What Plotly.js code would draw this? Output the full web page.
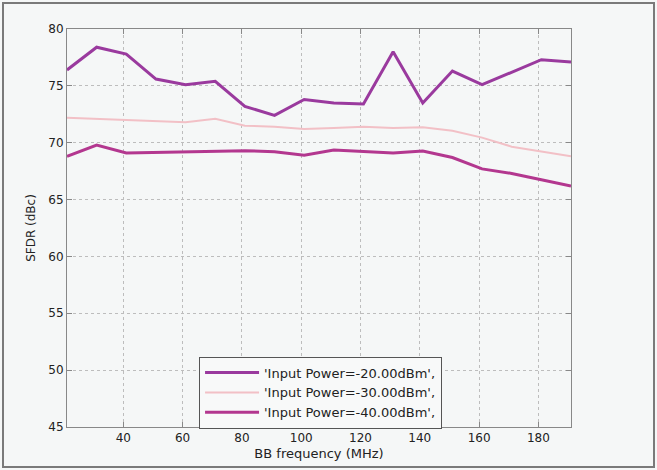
<!DOCTYPE html>
<html>
<head>
<meta charset="utf-8">
<script src="https://cdn.plot.ly/plotly-3.0.1.min.js"></script>
<style>
html,body{margin:0;padding:0;background:#f5f7f7;}
#wrap{position:relative;width:657px;height:470px;}
#chart{width:657px;height:470px;}
#frame{position:absolute;left:2px;top:2px;width:653px;height:466px;box-sizing:border-box;border:2px solid #7a7a7a;pointer-events:none;}
</style>
</head>
<body>
<div id="wrap"><div id="chart"></div><div id="frame"></div></div>
<script>
const freq = [21, 31, 41, 51, 61, 71, 81, 91, 101, 111, 121, 131, 141, 151, 161, 171, 181, 191];
const sfdr20 = [76.4, 78.4, 77.8, 75.6, 75.1, 75.4, 73.2, 72.4, 73.8, 73.5, 73.4, 78.0, 73.5, 76.3, 75.1, 76.2, 77.3, 77.1];
const sfdr30 = [72.2, 72.1, 72.0, 71.9, 71.8, 72.1, 71.5, 71.4, 71.2, 71.3, 71.4, 71.3, 71.35, 71.05, 70.45, 69.65, 69.25, 68.8];
const sfdr40 = [68.8, 69.8, 69.1, 69.15, 69.2, 69.3, 69.3, 69.2, 68.9, 69.35, 69.2, 69.1, 69.27, 68.7, 67.7, 67.3, 66.75, 66.2];
const names = ["'Input Power=-20.00dBm',", "'Input Power=-30.00dBm',", "'Input Power=-40.00dBm',"];
const xTicks = [40, 60, 80, 100, 120, 140, 160, 180];
const yTicks = [45, 50, 55, 60, 65, 70, 75, 80];

const traces = [
  {x: freq, y: sfdr20, name: names[0], mode: 'lines', line: {color: '#9a3a9e', width: 3}},
  {x: freq, y: sfdr30, name: names[1], mode: 'lines', line: {color: '#f2c0c6', width: 2}},
  {x: freq, y: sfdr40, name: names[2], mode: 'lines', line: {color: '#b3378f', width: 3}}
];

const fam = 'DejaVu Sans, Verdana, sans-serif';
const font = {family: fam, size: 12, color: '#222'};
const layout = {
  width: 657, height: 470,
  margin: {l: 67, r: 86, t: 29, b: 43},
  paper_bgcolor: '#f5f7f7',
  plot_bgcolor: '#f5f7f7',
  font: font,
  showlegend: true,
  legend: {
    x: 0.262, y: 0.177, xanchor: 'left', yanchor: 'top',
    bgcolor: '#f8f9f9', bordercolor: '#555', borderwidth: 1,
    font: {family: fam, size: 13, color: '#222'},
    itemwidth: 54, tracegroupgap: 0
  },
  xaxis: {
    range: [21, 191], tickvals: xTicks, ticktext: xTicks.map(String),
    ticks: 'inside', ticklen: 5, tickcolor: '#888', mirror: 'allticks',
    showline: true, linecolor: '#888', linewidth: 1,
    showgrid: true, gridcolor: '#bdbdbd', griddash: 'dot', gridwidth: 1,
    zeroline: false, tickfont: font,
    title: {text: 'BB frequency (MHz)', font: {family: fam, size: 13, color: '#222'}, standoff: 4}
  },
  yaxis: {
    range: [45, 80], tickvals: yTicks, ticktext: yTicks.map(String),
    ticks: 'inside', ticklen: 5, tickcolor: '#888', mirror: 'allticks',
    showline: true, linecolor: '#888', linewidth: 1,
    showgrid: true, gridcolor: '#bdbdbd', griddash: 'dot', gridwidth: 1,
    zeroline: false, tickfont: font,
    title: {text: 'SFDR (dBc)', font: {family: fam, size: 12, color: '#222'}, standoff: 10}
  }
};

Plotly.newPlot('chart', traces, layout, {displayModeBar: false, staticPlot: true});
</script>
</body>
</html>
